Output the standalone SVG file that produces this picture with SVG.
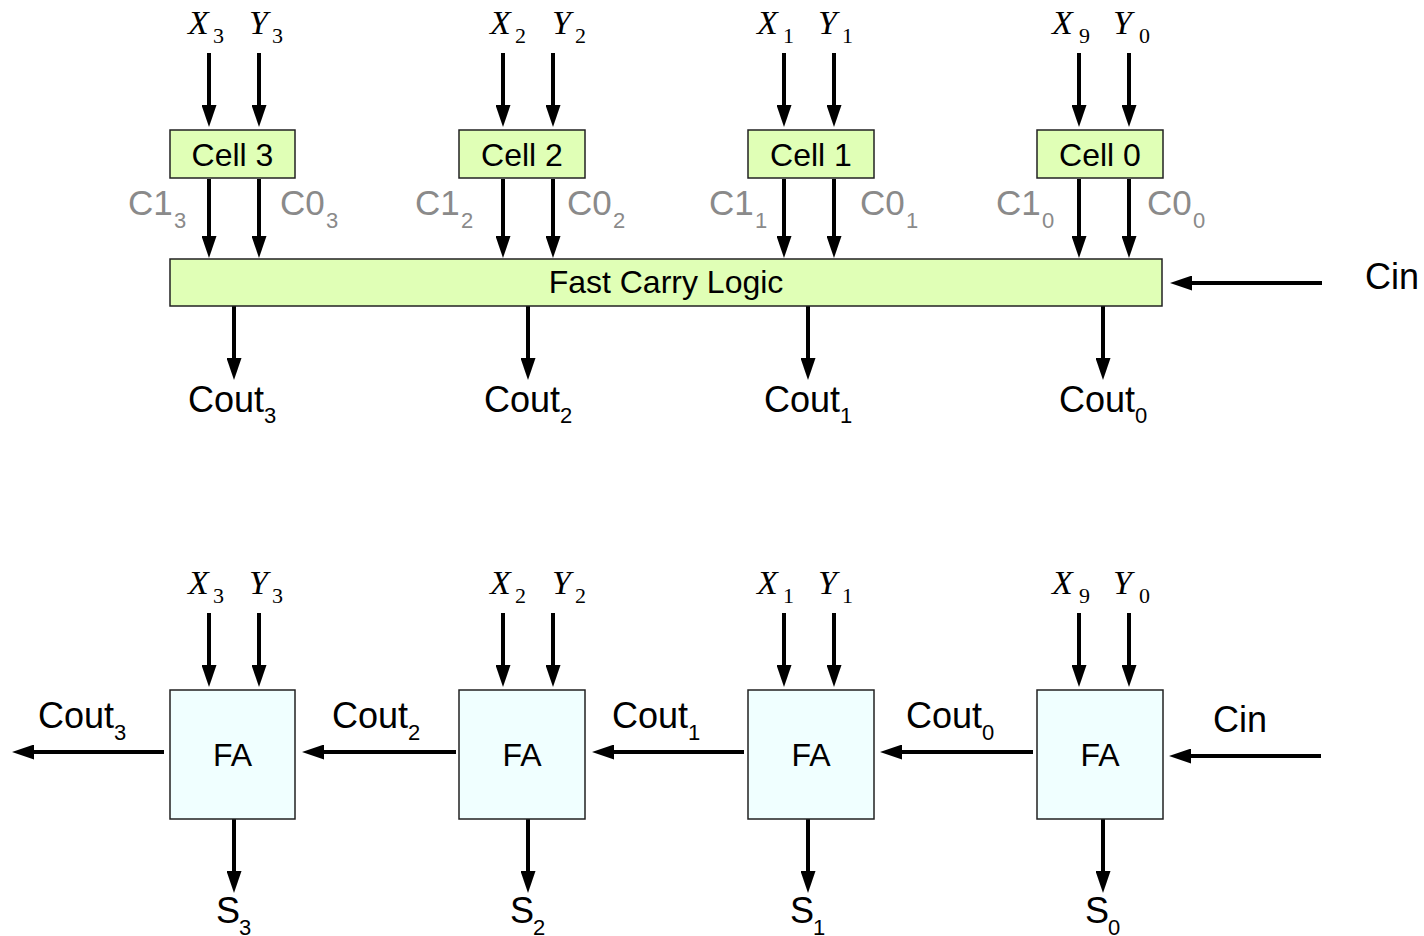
<svg xmlns="http://www.w3.org/2000/svg" width="1424" height="936" viewBox="0 0 1424 936">
<style>
.cell{fill:#e0ffb6;stroke:#222;stroke-width:1.5}
.fa{fill:#f0ffff;stroke:#222;stroke-width:1.5}
.t{font-family:"Liberation Sans",Arial,sans-serif;fill:#000}
.g{font-family:"Liberation Sans",Arial,sans-serif;fill:#8a8a8a;font-size:35px}
.lab{font-size:32px;text-anchor:middle}
.big{font-size:36px}
.sub{font-size:22px}
.v{font-family:"Liberation Serif","Times New Roman",serif;font-style:italic;font-size:34px;fill:#000}
.vs{font-family:"Liberation Serif","Times New Roman",serif;font-size:22px;fill:#000}
.w{stroke:#000;stroke-width:4;fill:none;marker-end:url(#ah)}
</style>
<defs>
<marker id="ah" markerUnits="userSpaceOnUse" markerWidth="22" markerHeight="15" viewBox="0 0 22 15" refX="12" refY="7.5" orient="auto">
<path d="M0,0 L22,7.5 L0,15 z" fill="#000"/>
</marker>
</defs>
<rect width="1424" height="936" fill="#fff"/>

<g id="connectors">
<line class="w" x1="209" y1="53" x2="209" y2="117"/>
<line class="w" x1="259" y1="53" x2="259" y2="117"/>
<line class="w" x1="503" y1="53" x2="503" y2="117"/>
<line class="w" x1="553" y1="53" x2="553" y2="117"/>
<line class="w" x1="784" y1="53" x2="784" y2="117"/>
<line class="w" x1="834" y1="53" x2="834" y2="117"/>
<line class="w" x1="1079" y1="53" x2="1079" y2="117"/>
<line class="w" x1="1129" y1="53" x2="1129" y2="117"/>

<line class="w" x1="209" y1="179" x2="209" y2="248"/>
<line class="w" x1="259" y1="179" x2="259" y2="248"/>
<line class="w" x1="503" y1="179" x2="503" y2="248"/>
<line class="w" x1="553" y1="179" x2="553" y2="248"/>
<line class="w" x1="784" y1="179" x2="784" y2="248"/>
<line class="w" x1="834" y1="179" x2="834" y2="248"/>
<line class="w" x1="1079" y1="179" x2="1079" y2="248"/>
<line class="w" x1="1129" y1="179" x2="1129" y2="248"/>

<line class="w" x1="234" y1="306" x2="234" y2="370"/>
<line class="w" x1="528" y1="306" x2="528" y2="370"/>
<line class="w" x1="808" y1="306" x2="808" y2="370"/>
<line class="w" x1="1103" y1="306" x2="1103" y2="370"/>

<line class="w" x1="1322" y1="283" x2="1180" y2="283"/>

<line class="w" x1="209" y1="613" x2="209" y2="677"/>
<line class="w" x1="259" y1="613" x2="259" y2="677"/>
<line class="w" x1="503" y1="613" x2="503" y2="677"/>
<line class="w" x1="553" y1="613" x2="553" y2="677"/>
<line class="w" x1="784" y1="613" x2="784" y2="677"/>
<line class="w" x1="834" y1="613" x2="834" y2="677"/>
<line class="w" x1="1079" y1="613" x2="1079" y2="677"/>
<line class="w" x1="1129" y1="613" x2="1129" y2="677"/>

<line class="w" x1="234" y1="819" x2="234" y2="883"/>
<line class="w" x1="528" y1="819" x2="528" y2="883"/>
<line class="w" x1="808" y1="819" x2="808" y2="883"/>
<line class="w" x1="1103" y1="819" x2="1103" y2="883"/>

<line class="w" x1="164" y1="752" x2="22" y2="752"/>
<line class="w" x1="456" y1="752" x2="312" y2="752"/>
<line class="w" x1="744" y1="752" x2="602" y2="752"/>
<line class="w" x1="1033" y1="752" x2="890" y2="752"/>
<line class="w" x1="1321" y1="756" x2="1179" y2="756"/>
</g>

<g id="cell3"><rect class="cell" x="170" y="130" width="125" height="48"/><text class="t lab" x="232.5" y="166">Cell 3</text></g>
<g id="cell2"><rect class="cell" x="459" y="130" width="126" height="48"/><text class="t lab" x="522" y="166">Cell 2</text></g>
<g id="cell1"><rect class="cell" x="748" y="130" width="126" height="48"/><text class="t lab" x="811" y="166">Cell 1</text></g>
<g id="cell0"><rect class="cell" x="1037" y="130" width="126" height="48"/><text class="t lab" x="1100" y="166">Cell 0</text></g>
<g id="fcl"><rect class="cell" x="170" y="259" width="992" height="47"/><text class="t lab" x="666" y="293">Fast Carry Logic</text></g>

<g id="fa3"><rect class="fa" x="170" y="690" width="125" height="129"/><text class="t lab" x="232.5" y="766">FA</text></g>
<g id="fa2"><rect class="fa" x="459" y="690" width="126" height="129"/><text class="t lab" x="522" y="766">FA</text></g>
<g id="fa1"><rect class="fa" x="748" y="690" width="126" height="129"/><text class="t lab" x="811" y="766">FA</text></g>
<g id="fa0"><rect class="fa" x="1037" y="690" width="126" height="129"/><text class="t lab" x="1100" y="766">FA</text></g>

<g id="inputs-top">
<text class="v" x="188" y="34">X</text><text class="vs" x="213" y="43">3</text>
<text class="v" x="249" y="34">Y</text><text class="vs" x="272" y="43">3</text>
<text class="v" x="490" y="34">X</text><text class="vs" x="515" y="43">2</text>
<text class="v" x="552" y="34">Y</text><text class="vs" x="575" y="43">2</text>
<text class="v" x="757" y="34">X</text><text class="vs" x="783" y="43">1</text>
<text class="v" x="818" y="34">Y</text><text class="vs" x="842" y="43">1</text>
<text class="v" x="1052" y="34">X</text><text class="vs" x="1079" y="43">9</text>
<text class="v" x="1113" y="34">Y</text><text class="vs" x="1139" y="43">0</text>
</g>
<g id="inputs-bottom">
<text class="v" x="188" y="594">X</text><text class="vs" x="213" y="603">3</text>
<text class="v" x="249" y="594">Y</text><text class="vs" x="272" y="603">3</text>
<text class="v" x="490" y="594">X</text><text class="vs" x="515" y="603">2</text>
<text class="v" x="552" y="594">Y</text><text class="vs" x="575" y="603">2</text>
<text class="v" x="757" y="594">X</text><text class="vs" x="783" y="603">1</text>
<text class="v" x="818" y="594">Y</text><text class="vs" x="842" y="603">1</text>
<text class="v" x="1052" y="594">X</text><text class="vs" x="1079" y="603">9</text>
<text class="v" x="1113" y="594">Y</text><text class="vs" x="1139" y="603">0</text>
</g>

<g id="carry-labels">
<text class="g" x="128" y="215">C1</text><text class="g sub" x="174" y="228">3</text>
<text class="g" x="280" y="215">C0</text><text class="g sub" x="326" y="228">3</text>
<text class="g" x="415" y="215">C1</text><text class="g sub" x="461" y="228">2</text>
<text class="g" x="567" y="215">C0</text><text class="g sub" x="613" y="228">2</text>
<text class="g" x="709" y="215">C1</text><text class="g sub" x="755" y="228">1</text>
<text class="g" x="860" y="215">C0</text><text class="g sub" x="906" y="228">1</text>
<text class="g" x="996" y="215">C1</text><text class="g sub" x="1042" y="228">0</text>
<text class="g" x="1147" y="215">C0</text><text class="g sub" x="1193" y="228">0</text>
</g>

<g id="outputs-top">
<text class="t big" x="188" y="412">Cout</text><text class="t sub" x="264" y="423">3</text>
<text class="t big" x="484" y="412">Cout</text><text class="t sub" x="560" y="423">2</text>
<text class="t big" x="764" y="412">Cout</text><text class="t sub" x="840" y="423">1</text>
<text class="t big" x="1059" y="412">Cout</text><text class="t sub" x="1135" y="423">0</text>
<text class="t big" x="1365" y="289">Cin</text>
</g>

<g id="outputs-bottom">
<text class="t big" x="38" y="728">Cout</text><text class="t sub" x="114" y="740">3</text>
<text class="t big" x="332" y="728">Cout</text><text class="t sub" x="408" y="740">2</text>
<text class="t big" x="612" y="728">Cout</text><text class="t sub" x="688" y="740">1</text>
<text class="t big" x="906" y="728">Cout</text><text class="t sub" x="982" y="740">0</text>
<text class="t big" x="1213" y="732">Cin</text>
<text class="t big" x="216" y="923">S</text><text class="t sub" x="239" y="935">3</text>
<text class="t big" x="510" y="923">S</text><text class="t sub" x="533" y="935">2</text>
<text class="t big" x="790" y="923">S</text><text class="t sub" x="813" y="935">1</text>
<text class="t big" x="1085" y="923">S</text><text class="t sub" x="1108" y="935">0</text>
</g>
</svg>
